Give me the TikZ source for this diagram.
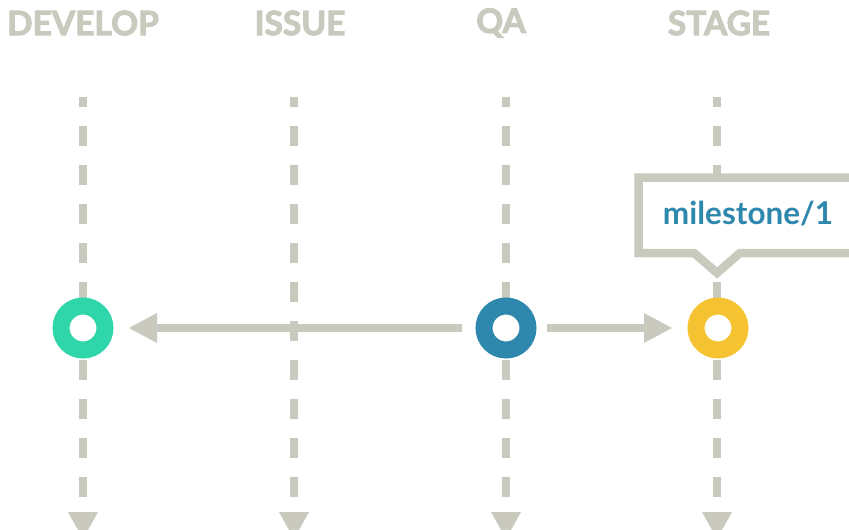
\documentclass[tikz,border=0pt]{standalone}
\usepackage{fontspec}
\setmainfont{Lato}
\newfontfamily\headfont[BoldFeatures={FakeBold=3}]{Lato}
\usetikzlibrary{arrows.meta}
\definecolor{lanegray}{HTML}{C9C9BE}
\definecolor{devgreen}{HTML}{2FD6A9}
\definecolor{qablue}{HTML}{2E88AD}
\definecolor{stageyellow}{HTML}{F5C231}
\tikzset{
  header/.style={text=lanegray, font=\headfont\bfseries\fontsize{33.5}{36}\selectfont, inner sep=0pt, anchor=center},
  lane/.style={draw=lanegray, line width=8pt, dash pattern=on 20pt off 19pt, dash phase=10pt},
  lanetip/.style={fill=lanegray},
  commit/.style={circle, minimum size=44pt, inner sep=0pt, line width=17pt, fill=white},
  flow/.style={draw=lanegray, line width=8pt, -{Triangle[length=28pt,width=30pt,line width=0pt]}},
  callout/.style={draw=lanegray, fill=white, line width=8.5pt, miter limit=10},
  tag/.style={text=qablue, font=\bfseries\fontsize{31.5}{36}\selectfont, inner sep=0pt}
}
\begin{document}
\begin{tikzpicture}[x=1pt, y=-1pt]
\useasboundingbox (0,0) rectangle (849,530);
\clip (0,0) rectangle (849,530);
% headers
\node[header] (hdev) at (83,23) {DEVELOP};
\node[header] (hissue) at (300,23) {ISSUE};
\node[header] (hqa) at (501,23) {QA};
\node[header] (hstage) at (719,23) {STAGE};
% lanes
\foreach \n/\x in {dev/83, issue/294, qa/506, stage/717}{
  \coordinate (\n top) at (\x,97);
  \coordinate (\n bot) at (\x,497);
  \draw[lane] (\n top) -- (\n bot);
  \fill[lanetip] (\x-15,512) -- (\x+15,512) -- (\x,539) -- cycle;
}
% callout
\draw[callout] (638.5,177.5) -- (870,177.5) -- (870,253) -- (740,253) -- (717,273) -- (694,253) -- (638.5,253) -- cycle;
\node[tag] (ms) at (748,214) {milestone/1};
% commits
\node[commit, draw=devgreen] (dev) at (83,328) {};
\node[commit, draw=qablue] (qa) at (506,328) {};
\node[commit, draw=stageyellow] (stage) at (718,328) {};
% flows
\draw[flow, shorten <=13.5pt, shorten >=15.5pt] (qa) -- (dev);
\draw[flow, shorten <=10.5pt, shorten >=15.5pt] (qa) -- (stage);
\end{tikzpicture}
\end{document}
